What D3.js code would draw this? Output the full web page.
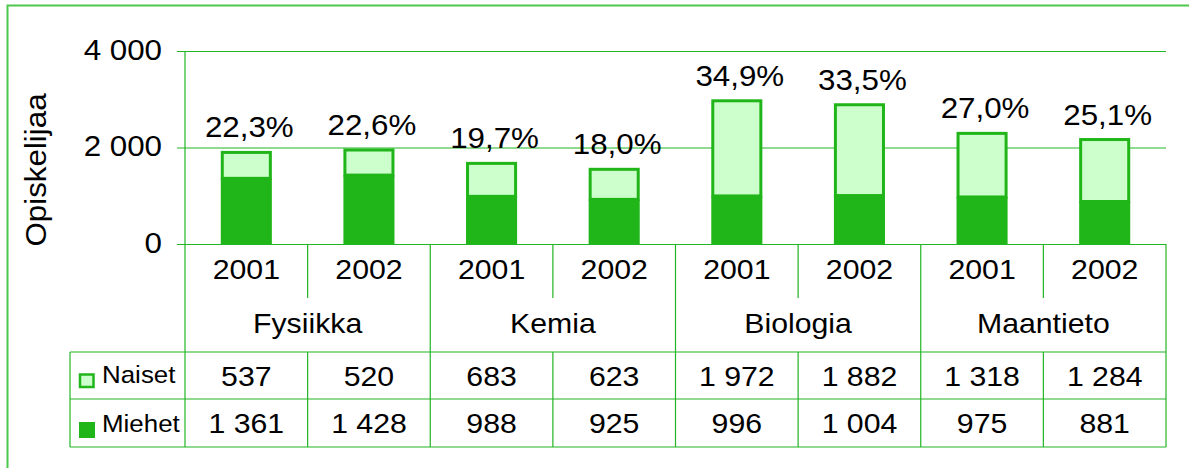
<!DOCTYPE html>
<html>
<head>
<meta charset="utf-8">
<script src="https://cdn.jsdelivr.net/npm/d3@7"></script>
<style>
  html, body { margin: 0; padding: 0; background: #fff; }
  text { font-family: "Liberation Sans", Arial, Helvetica, sans-serif; fill: #000; }
</style>
</head>
<body>
<div id="chart"></div>
<script>
// data
var categories = ["Fysiikka", "Kemia", "Biologia", "Maantieto"];
var years = ["2001", "2002"];
var naiset = [537, 520, 683, 623, 1972, 1882, 1318, 1284];
var miehet = [1361, 1428, 988, 925, 996, 1004, 975, 881];
var shares = [22.3, 22.6, 19.7, 18.0, 34.9, 33.5, 27.0, 25.1];
var yTicks = [0, 2000, 4000];
var seriesNames = ["Naiset", "Miehet"];

var W = 1189, H = 468;
var green = "#22b522", dark = "#20b518", light = "#ccffcc";
var SX = 1.08; // the source type is a little wider than Liberation Sans

var fi = d3.formatLocale({decimal: ",", thousands: " ", grouping: [3], currency: ["", " €"]});
var fmtInt = fi.format(","), fmtPct = fi.format(",.1f");

var keys = [];
categories.forEach(function(c) { years.forEach(function(y) { keys.push(c + "|" + y); }); });
var rows = keys.map(function(k, i) {
  return {key: k, cat: k.split("|")[0], year: k.split("|")[1], n: naiset[i], m: miehet[i], pct: shares[i]};
});

var svg = d3.select("#chart").append("svg")
  .attr("width", W)
  .attr("height", H);

svg.append("rect").attr("width", W).attr("height", H).attr("fill", "#fff");

// outer frame (only top and left edges show)
svg.append("path")
  .attr("d", "M7.5," + H + "V5.5H" + W)
  .attr("fill", "none")
  .attr("stroke", "#4cc84c")
  .attr("stroke-width", 2);

var left = 185, right = 1166;
var x = d3.scaleBand().domain(keys).range([left, right]);
var xBar = d3.scaleBand().domain(keys).range([left, right]).paddingInner(0.608).paddingOuter(0.304);
var xCat = d3.scaleBand().domain(categories).range([left, right]);
var y = d3.scaleLinear().domain([0, 4000]).range([244, 51]);

function label(g, px, py, txt, size, anchor) {
  return g.append("text")
    .attr("transform", "translate(" + px + "," + py + ") scale(" + SX + ",1)")
    .attr("text-anchor", anchor || "middle")
    .attr("font-size", size)
    .text(txt);
}

// grid + y ticks
var yAxis = svg.append("g")
  .attr("transform", "translate(177,0)")
  .call(d3.axisLeft(y).tickValues(yTicks).tickSizeInner(-(right - 177)).tickSizeOuter(0).tickFormat(fmtInt));
yAxis.select(".domain").remove();
yAxis.selectAll(".tick line").attr("stroke", green).attr("stroke-width", 1);
yAxis.selectAll(".tick text")
  .attr("x", null).attr("dy", null)
  .attr("transform", "translate(-15,8) scale(" + SX + ",1)")
  .attr("font-size", 29)
  .attr("font-family", "Liberation Sans, Arial, sans-serif")
  .attr("fill", "#000");

// axis title
svg.append("text")
  .attr("transform", "translate(46,170) rotate(-90) scale(" + SX + ",1)")
  .attr("text-anchor", "middle")
  .attr("font-size", 29)
  .attr("fill", "#222")
  .text("Opiskelijaa");

// bars
var bars = svg.append("g");
bars.selectAll("rect.naiset").data(rows).join("rect")
  .attr("class", "naiset")
  .attr("x", function(d) { return xBar(d.key); })
  .attr("y", function(d) { return y(d.m + d.n); })
  .attr("width", xBar.bandwidth())
  .attr("height", function(d) { return y(d.m) - y(d.m + d.n); })
  .attr("fill", light)
  .attr("stroke", dark)
  .attr("stroke-width", 3);
bars.selectAll("rect.miehet").data(rows).join("rect")
  .attr("class", "miehet")
  .attr("x", function(d) { return xBar(d.key) - 1.5; })
  .attr("y", function(d) { return y(d.m); })
  .attr("width", xBar.bandwidth() + 3)
  .attr("height", function(d) { return y(0) - y(d.m); })
  .attr("fill", dark);

// share labels
rows.forEach(function(d) {
  label(svg, x(d.key) + x.bandwidth() / 2 + 3, y(d.m + d.n) - 15, fmtPct(d.pct) + "%", 29);
});

// data table lines
var grid = svg.append("g").attr("stroke", green).attr("stroke-width", 1.2).attr("fill", "none");
var yTop = 244, yYear = 298, yCat = 352, yMid = 399, yBot = 447, tableLeft = 70;
grid.append("line").attr("x1", left).attr("x2", left).attr("y1", y(4000)).attr("y2", yBot);
keys.forEach(function(k, i) {
  var xe = x(k) + x.bandwidth();
  if (i % 2 === 1) {
    grid.append("line").attr("x1", xe).attr("x2", xe).attr("y1", yTop).attr("y2", yBot);
  } else {
    grid.append("line").attr("x1", xe).attr("x2", xe).attr("y1", yTop).attr("y2", yYear);
    grid.append("line").attr("x1", xe).attr("x2", xe).attr("y1", yCat).attr("y2", yBot);
  }
});
[yCat, yMid, yBot].forEach(function(yy) {
  grid.append("line").attr("x1", tableLeft).attr("x2", right).attr("y1", yy).attr("y2", yy);
});
grid.append("line").attr("x1", tableLeft).attr("x2", tableLeft).attr("y1", yCat).attr("y2", yBot);

// table text
rows.forEach(function(d) {
  var cx = x(d.key) + x.bandwidth() / 2;
  label(svg, cx, 279, d.year, 28);
  label(svg, cx, 386, fmtInt(d.n), 28);
  label(svg, cx, 433, fmtInt(d.m), 28);
});
categories.forEach(function(c) {
  label(svg, xCat(c) + xCat.bandwidth() / 2, 333, c, 28);
});

// legend keys inside the table
svg.append("rect").attr("x", 80).attr("y", 374.5).attr("width", 13.5).attr("height", 12.5)
  .attr("fill", light).attr("stroke", dark).attr("stroke-width", 2.5);
svg.append("rect").attr("x", 79).attr("y", 422).attr("width", 16).attr("height", 16)
  .attr("fill", dark);
label(svg, 102, 383, seriesNames[0], 24, "start");
label(svg, 102, 432, seriesNames[1], 24, "start");
</script>
</body>
</html>
